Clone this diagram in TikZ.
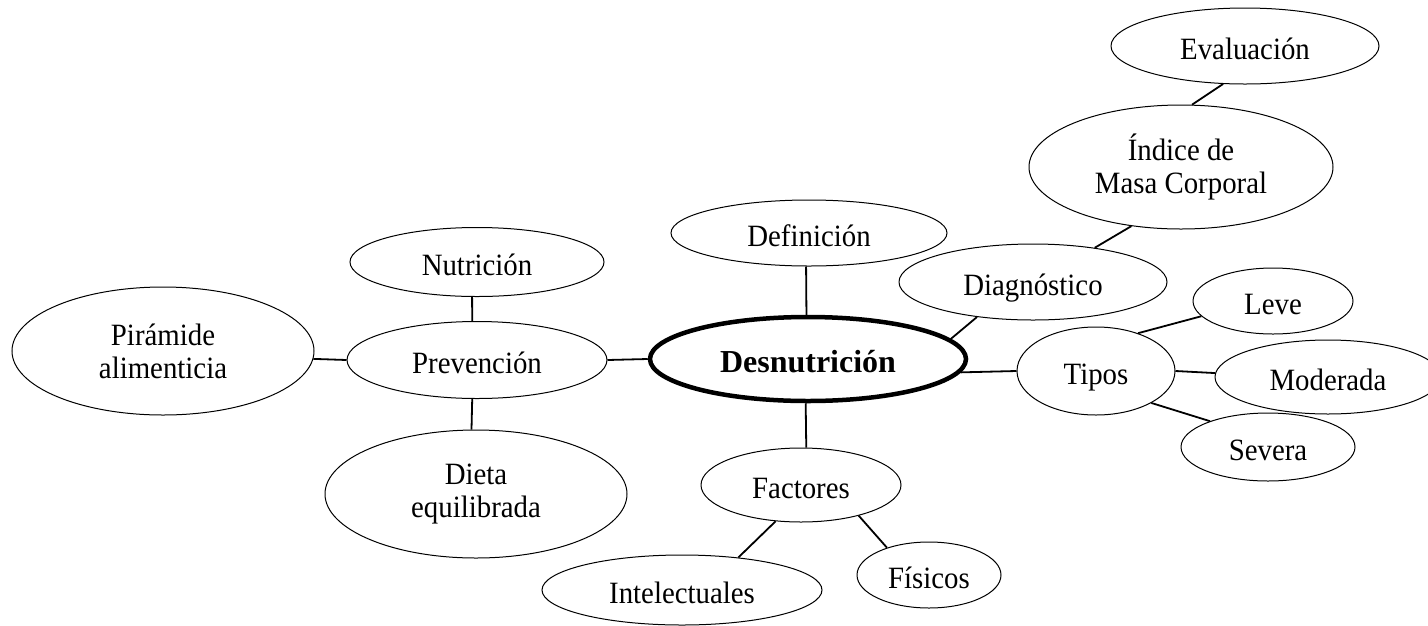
\documentclass[tikz,border=0pt]{standalone}
\usepackage{fontspec}
\setmainfont[FakeStretch=0.93]{Liberation Serif}
\newfontfamily\corefont{Liberation Serif}
\usetikzlibrary{shapes.geometric}
\begin{document}
\begin{tikzpicture}[x=1pt,y=-1pt,
  sz/.style n args={2}{minimum width=#1pt, minimum height=#2pt},
  topic/.style={ellipse, draw, line width=1pt, inner sep=0pt, align=center,
    font=\fontsize{31}{33}\selectfont},
  oneline/.style={topic, text height=33pt, text depth=6pt},
  core/.style={ellipse, draw, line width=4.5pt, inner sep=0pt,
    font=\corefont\bfseries\fontsize{32}{36}\selectfont,
    text height=33pt, text depth=6pt},
  link/.style={line width=1.8pt}]
\useasboundingbox (0,0) rectangle (1428,625);

% central concept
\node[core, sz={316}{84}] (des) at (808,359) {Desnutrición};

% upper branches
\node[oneline, sz={276}{66}] (def)  at (809,233)  {Definición};
\node[oneline, sz={268}{76}] (diag) at (1033,282) {Diagnóstico};
\node[topic, sz={304}{124}]  (imc)  at (1181,167) {Índice de\\Masa Corporal};
\node[oneline, sz={268}{76}] (eval) at (1245,46)  {Evaluación};

% types
\node[oneline, sz={158}{88}] (tipos) at (1096,371) {Tipos};
\node[oneline, sz={160}{66}] (leve)  at (1273,301) {Leve};
\node[oneline, sz={226}{74}] (mod)   at (1328,377) {Moderada};
\node[oneline, sz={174}{68}] (sev)   at (1268,447) {Severa};

% factors
\node[oneline, sz={200}{74}] (fac) at (801,485) {Factores};
\node[oneline, sz={280}{70}] (int) at (682,590) {Intelectuales};
\node[oneline, sz={144}{66}] (fis) at (929,575) {Físicos};

% prevention
\node[oneline, sz={260}{77}] (prev)  at (477,360) {Prevención};
\node[oneline, sz={254}{69}] (nut)   at (477,262) {Nutrición};
\node[topic, sz={302}{128}]  (pir)   at (163,351) {Pirámide\\alimenticia};
\node[topic, sz={302}{128}]  (dieta) at (476,494) {Dieta\\equilibrada};

% connectors
\draw[link] (eval.240) -- (imc.80);
\draw[link] (imc.230) -- (diag.29);
\draw[link] (diag.-148) -- (des.8.5);
\draw[link] (def.-95) -- (des.92);
\draw[link] (des.-93) -- (fac.82);
\draw[link] (des.-5) -- (tipos.west);
\draw[link] (tipos.42) -- (leve.192);
\draw[link] (tipos.east) -- (mod.178);
\draw[link] (tipos.-30) -- (sev.156);
\draw[link] (fac.235) -- (int.30);
\draw[link] (fac.-28) -- (fis.147);
\draw[link] (prev.east) -- (des.west);
\draw[link] (pir.-3) -- (prev.west);
\draw[link] (nut.-98) -- (prev.97);
\draw[link] (prev.-97) -- (dieta.94);
\end{tikzpicture}
\end{document}
